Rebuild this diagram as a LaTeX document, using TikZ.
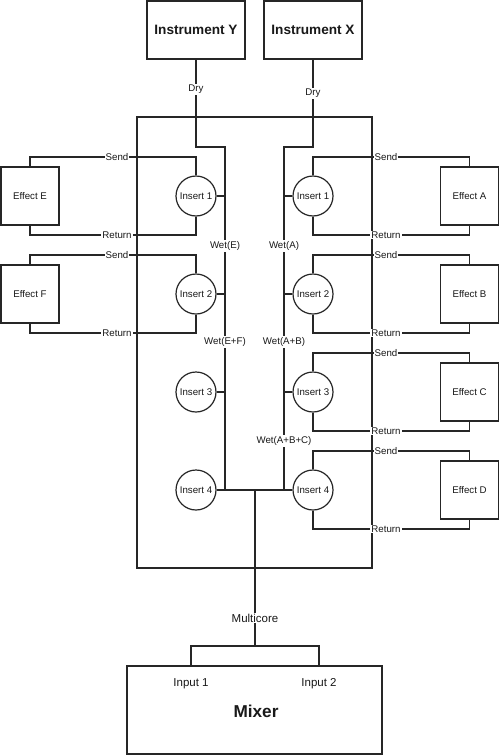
\documentclass[tikz,border=0pt]{standalone}
\usepackage{fontspec}
\setmainfont{Liberation Sans}
\begin{document}
\begin{tikzpicture}[x=1pt,y=-1pt,
  line width=1.2pt, draw=black!85,
  every node/.style={text=black!90},
  sm/.style={font=\fontsize{9.7}{11}\selectfont},
  lab/.style={sm, fill=white, inner sep=1pt},
  box/.style={draw=black!85, fill=white, line width=1.2pt, inner sep=0pt},
  inst/.style={box, minimum width=98, minimum height=58, font=\fontsize{13.6}{16}\selectfont\bfseries},
  eff/.style={box, minimum width=58, minimum height=58, sm},
  ins/.style={box, circle, minimum size=40, sm},
  wire/.style={draw=black!85, line width=1.2pt}
]
\useasboundingbox (0,0) rectangle (500,755);

% outer device box
\node[box, minimum width=235, minimum height=451] (dev) at (254.5,342.5) {};

% instruments
\node[inst] (iy) at (196,30) {Instrument Y};
\node[inst] (ix) at (313,30) {Instrument X};

% effects
\node[eff] (eE) at (30,196) {Effect E};
\node[eff] (eF) at (30,294) {Effect F};
\node[eff] (eA) at (469.5,196) {Effect A};
\node[eff] (eB) at (469.5,294) {Effect B};
\node[eff] (eC) at (469.5,392) {Effect C};
\node[eff] (eD) at (469.5,490) {Effect D};

% inserts
\node[ins] (i1L) at (196,196) {Insert 1};
\node[ins] (i2L) at (196,294) {Insert 2};
\node[ins] (i3L) at (196,392) {Insert 3};
\node[ins] (i4L) at (196,490) {Insert 4};
\node[ins] (i1R) at (313,196) {Insert 1};
\node[ins] (i2R) at (313,294) {Insert 2};
\node[ins] (i3R) at (313,392) {Insert 3};
\node[ins] (i4R) at (313,490) {Insert 4};

% mixer
\node[box, minimum width=255, minimum height=88] (mix) at (254.5,710) {};
\node[font=\fontsize{17.2}{20}\selectfont\bfseries] (mixl) at (256,711) {Mixer};
\node[font=\fontsize{11.5}{13}\selectfont, inner sep=0pt] (in1) at (191,684) {Input 1};
\node[font=\fontsize{11.5}{13}\selectfont, inner sep=0pt] (in2) at (319,684) {Input 2};

% bus coordinates
\coordinate (busLtop) at (225,147);
\coordinate (busRtop) at (284,147);
\coordinate (jL) at (225,490);
\coordinate (jR) at (284,490);
\coordinate (jM) at (255,490);
\coordinate (split) at (255,646);

% dry lines and wet buses
\draw[wire] (iy.south) -- ++(0,30) node[lab]{Dry} |- (busLtop) -- (jL);
\draw[wire] (ix.south) -- ++(0,34) node[lab]{Dry} |- (busRtop) -- (jR);

% insert stubs
\draw[wire] (i1L.east) -- (i1L.east -| jL);
\draw[wire] (i2L.east) -- (i2L.east -| jL);
\draw[wire] (i3L.east) -- (i3L.east -| jL);
\draw[wire] (i1R.west) -- (i1R.west -| jR);
\draw[wire] (i2R.west) -- (i2R.west -| jR);
\draw[wire] (i3R.west) -- (i3R.west -| jR);
\draw[wire] (i4L.east) -- (i4R.west);

% wet labels
\node[lab] (wE) at (225,246) {Wet(E)};
\node[lab] (wEF) at (225,342) {Wet(E+F)};
\node[lab] (wA) at (284,246) {Wet(A)};
\node[lab] (wAB) at (284,342) {Wet(A+B)};
\node[lab] (wABC) at (284,441) {Wet(A+B+C)};

% send / return left
\draw[wire] (i1L.north) |- (117,157) node[lab]{Send} -| (eE.north);
\draw[wire] (i1L.south) |- (117,235) node[lab]{Return} -| (eE.south);
\draw[wire] (i2L.north) |- (117,255) node[lab]{Send} -| (eF.north);
\draw[wire] (i2L.south) |- (117,333) node[lab]{Return} -| (eF.south);

% send / return right
\draw[wire] (i1R.north) |- (386,157) node[lab]{Send} -| (eA.north);
\draw[wire] (i1R.south) |- (386,235) node[lab]{Return} -| (eA.south);
\draw[wire] (i2R.north) |- (386,255) node[lab]{Send} -| (eB.north);
\draw[wire] (i2R.south) |- (386,333) node[lab]{Return} -| (eB.south);
\draw[wire] (i3R.north) |- (386,353) node[lab]{Send} -| (eC.north);
\draw[wire] (i3R.south) |- (386,431) node[lab]{Return} -| (eC.south);
\draw[wire] (i4R.north) |- (386,451) node[lab]{Send} -| (eD.north);
\draw[wire] (i4R.south) |- (386,529) node[lab]{Return} -| (eD.south);

% multicore
\draw[wire] (jM) -- (255,618) node[lab, font=\fontsize{11.5}{13}\selectfont]{Multicore} -- (split);
\draw[wire] (in1 |- mix.north) |- (split) -| (in2 |- mix.north);
\end{tikzpicture}
\end{document}
